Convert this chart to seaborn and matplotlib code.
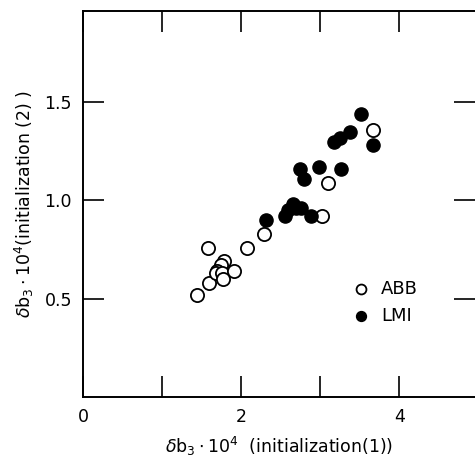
import matplotlib
matplotlib.use("Agg")
import matplotlib.pyplot as plt
import seaborn as sns
import pandas as pd

abb_x = [1.44, 1.59, 1.58, 1.79, 1.74, 1.70, 1.68, 1.76, 1.77, 1.91, 2.08, 2.29, 3.02, 3.10, 3.67]
abb_y = [0.52, 0.58, 0.76, 0.69, 0.67, 0.64, 0.63, 0.63, 0.60, 0.64, 0.76, 0.83, 0.92, 1.09, 1.36]
lmi_x = [2.31, 2.55, 2.60, 2.66, 2.70, 2.76, 2.89, 2.75, 2.80, 2.98, 3.26, 3.17, 3.25, 3.38, 3.52, 3.67]
lmi_y = [0.90, 0.92, 0.95, 0.98, 0.96, 0.96, 0.92, 1.16, 1.11, 1.17, 1.16, 1.30, 1.32, 1.35, 1.44, 1.28]

xticks = [0, 1, 2, 3, 4]
xticklabels = ["0", "", "2", "", "4"]
yticks = [0.5, 1.0, 1.5]
yticklabels = ["0.5", "1.0", "1.5"]

sns.set_style("ticks", {"text.color": "black", "axes.labelcolor": "black",
                        "xtick.color": "black", "ytick.color": "black",
                        "axes.edgecolor": "black"})
plt.rcParams['font.family'] = ['DejaVu Sans']

fig = plt.figure(figsize=(4.75, 4.59), dpi=100)
ax = fig.add_axes([83/475, 1 - 397/459, 1 - 83/475, (397 - 11)/459])

abb = pd.DataFrame({"x": abb_x, "y": abb_y})
lmi = pd.DataFrame({"x": lmi_x, "y": lmi_y})

sns.scatterplot(data=abb, x="x", y="y", ax=ax, s=90, facecolor="white",
                edgecolor="black", linewidth=1.3, label="ABB", zorder=3)
sns.scatterplot(data=lmi, x="x", y="y", ax=ax, s=90, color="black",
                edgecolor="black", linewidth=1.0, label="LMI", zorder=4)

ax.set_xlim(0, 4.96)
ax.set_ylim(0, 1.964)
ax.set_xticks(xticks)
ax.set_xticklabels(xticklabels)
ax.set_yticks(yticks)
ax.set_yticklabels(yticklabels)
ax.tick_params(direction="in", length=15, width=1.2, top=True, right=True,
               labelsize=12.5, pad=8, colors="black")
for side in ["left", "bottom", "top"]:
    ax.spines[side].set_linewidth(1.4)
    ax.spines[side].set_color("black")
ax.spines["right"].set_visible(False)

ax.set_xlabel(r"$\delta\mathrm{b}_3\cdot10^4$  (initialization(1))", fontsize=12.5,
              labelpad=6, color="black")
ax.set_ylabel(r"$\delta\mathrm{b}_3\cdot10^4$(initialization (2) )", fontsize=12.5,
              labelpad=6, color="black")

leg = ax.legend(loc="center left", bbox_to_anchor=(0.645, 0.245), frameon=False,
                fontsize=13, handletextpad=0.1, labelspacing=0.5, markerscale=0.75,
                borderaxespad=0)

fig.savefig("out.png", dpi=100)
